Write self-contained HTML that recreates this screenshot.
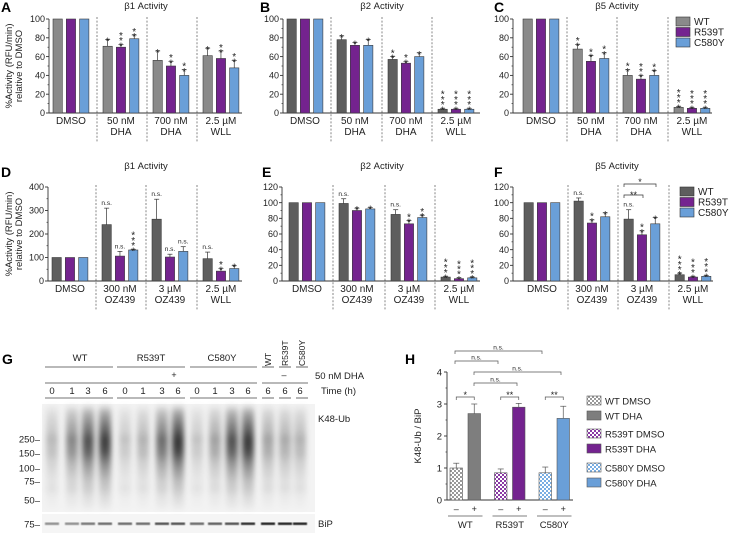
<!DOCTYPE html>
<html><head><meta charset="utf-8">
<style>
html,body{margin:0;padding:0;background:#fff;}
svg{display:block;font-family:"Liberation Sans",Arial,sans-serif;}
</style></head>
<body>
<svg id="fig" width="735" height="533" viewBox="0 0 735 533" xmlns="http://www.w3.org/2000/svg">
<defs>
<pattern id="chkGray" width="4" height="4" patternUnits="userSpaceOnUse"><rect width="4" height="4" fill="#fff"/><rect width="2" height="2" fill="#9a9a9a"/><rect x="2" y="2" width="2" height="2" fill="#9a9a9a"/></pattern>
<pattern id="chkPurple" width="4" height="4" patternUnits="userSpaceOnUse"><rect width="4" height="4" fill="#fff"/><rect width="2" height="2" fill="#8a3aa5"/><rect x="2" y="2" width="2" height="2" fill="#8a3aa5"/></pattern>
<pattern id="chkBlue" width="4" height="4" patternUnits="userSpaceOnUse"><rect width="4" height="4" fill="#fff"/><rect width="2" height="2" fill="#7aaee3"/><rect x="2" y="2" width="2" height="2" fill="#7aaee3"/></pattern>
<filter id="blur" x="-50%" y="-10%" width="200%" height="120%"><feGaussianBlur stdDeviation="2.6 4"/></filter>
<filter id="blur2"><feGaussianBlur stdDeviation="0.6"/></filter>
<linearGradient id="laneGrad" x1="0" y1="0" x2="0" y2="1">
<stop offset="0" stop-color="#000" stop-opacity="0.3"/>
<stop offset="0.22" stop-color="#000" stop-opacity="0.8"/>
<stop offset="0.38" stop-color="#000" stop-opacity="1"/>
<stop offset="0.6" stop-color="#000" stop-opacity="0.5"/>
<stop offset="0.8" stop-color="#000" stop-opacity="0.18"/>
<stop offset="1" stop-color="#000" stop-opacity="0.06"/>
</linearGradient>
</defs>
</svg>
<script>
// ---------- data ----------
const groups1 = [["DMSO"],["50 nM","DHA"],["700 nM","DHA"],["2.5 µM","WLL"]];
const groups2 = [["DMSO"],["300 nM","OZ439"],["3 µM","OZ439"],["2.5 µM","WLL"]];
const seriesNames = ["WT","R539T","C580Y"];
const aVals = [[100,100,100],[71,70,79],[56,50,40],[61,58,48]];
const aErrs = [[0,0,0],[7,3,4],[10,5,6],[8,8,8]];
const aSig = [["","",""],["*","***","**"],["*","**","**"],["*","**","**"]];
const bVals = [[100,100,100],[78,72,72],[57,53,60],[4,4,4]];
const bErrs = [[0,0,0],[4,3,6],[3,2,4],[1,1,1]];
const bSig = [["","",""],["*","*","*"],["**","**","*"],["****","****","****"]];
const cVals = [[100,100,100],[68,55,58],[40,36,40],[6,5,5]];
const cErrs = [[0,0,0],[5,6,6],[6,4,5],[1,1,1]];
const cSig = [["","",""],["**","**","**"],["**","***","**"],["****","****","****"]];
const dVals = [[100,100,100],[240,106,132],[263,102,126],[95,42,53]];
const dErrs = [[0,0,0],[70,20,3],[85,12,20],[28,12,12]];
const dSig = [["","",""],["n.s.","n.s.","****"],["n.s.","n.s.","n.s."],["n.s.","**","*"]];
const eVals = [[100,100,100],[99,90,92],[85,73,81],[5,3,4]];
const eErrs = [[0,0,0],[6,3,2],[6,4,3],[1,1,1]];
const eSig = [["","",""],["n.s.","*","*"],["n.s.","**","**"],["****","****","****"]];
const fVals = [[100,100,100],[102,74,82],[79,59,73],[8,5,6]];
const fErrs = [[0,0,0],[4,4,5],[12,5,8],[2,1,1]];
const fSig = [["","",""],["n.s.","**","*"],["n.s.","**","*"],["****","****","****"]];
const ticks100 = [0,20,40,60,80,100];
const ticks400 = [0,100,200,300,400];
const ticks120 = [0,20,40,60,80,100,120];
const hCats = ["WT","R539T","C580Y"];
const hDmso = [1.0,0.85,0.85];
const hDmsoErr = [0.15,0.12,0.18];
const hDha = [2.7,2.9,2.55];
const hDhaErr = [0.3,0.12,0.38];
const hTicks = [0,1,2,3,4];
const laneIntensity = [0.15,0.45,0.78,0.92, 0.1,0.2,0.62,0.97, 0.1,0.3,0.78,0.95, 0.28,0.24,0.2];
const bipIntensity = [0.45,0.45,0.55,0.6, 0.6,0.6,0.7,0.7, 0.6,0.65,0.7,0.85, 0.9,0.9,0.9];
const laneTimes = ["0","1","3","6","0","1","3","6","0","1","3","6","6","6","6"];
const mwLabels = ["250–","150–","100–","75–","50–"];
const mwY = [439,453,468,481,500];

// ---------- helpers ----------
const svg = document.getElementById('fig');
const NS = 'http://www.w3.org/2000/svg';
function mk(tag, attrs, parent){
  const e = document.createElementNS(NS, tag);
  for (const k in attrs) e.setAttribute(k, attrs[k]);
  (parent||svg).appendChild(e);
  return e;
}
function txt(x,y,s,size,anchor,parent,extra){
  const t = mk('text',Object.assign({x:x,y:y,'font-size':size,'text-anchor':anchor||'middle',fill:'#222'},extra||{}),parent);
  t.textContent = s;
  return t;
}
const barColors = {light:['#8a8a8a','#74238f','#6a9fd8'], dark:['#5e5e5e','#74238f','#6a9fd8']};

function drawPanel(p){
  const g = mk('g',{});
  
  
  const yS = v => p.y0 - (v/p.ymax)*(p.y0-p.yTop);
  const title = txt(p.titleX, p.titleY, p.title, 9.5, 'middle', g);
  
  
  const letter = txt(p.letterX, p.letterY, p.letter, 14, 'start', g, {'font-weight':'bold', fill:'#000'});
  
  
  mk('line',{x1:p.axisX,y1:p.yTop,x2:p.axisX,y2:p.y0,stroke:'#333','stroke-width':0.9},g);
  p.ticks.forEach(t=>{
    const y = yS(t);
    mk('line',{x1:p.axisX-3,y1:y,x2:p.axisX,y2:y,stroke:'#333','stroke-width':0.9},g);
    const tl = txt(p.axisX-4,y+3.2,String(t),9,'end',g);
    
    
  });
  for(let i=0;i<p.ticks.length-1;i++){
    const y = yS((p.ticks[i]+p.ticks[i+1])/2);
    mk('line',{x1:p.axisX-1.5,y1:y,x2:p.axisX,y2:y,stroke:'#333','stroke-width':0.7},g);
  }
  mk('line',{x1:p.axisX,y1:p.y0,x2:p.endX,y2:p.y0,stroke:'#333','stroke-width':0.9},g);
  p.seps.forEach(sx=>{
    mk('line',{x1:sx,y1:p.yTop-2,x2:sx,y2:p.y0+30,stroke:'#555','stroke-width':0.7,'stroke-dasharray':'2,1.6'},g);
  });
  const cols = barColors[p.shade];
  const step = 13.3, bw = 9.3;
  p.vals.forEach((grp,gi)=>{
    const start = gi===0 ? p.seps[0]-44 : p.seps[gi-1]+6;
    grp.forEach((v,si)=>{
      const x = start + si*step;
      const y = yS(v);
      const r = mk('rect',{x:x,y:y,width:bw,height:p.y0-y,fill:cols[si],stroke:'#3a3a3a','stroke-width':0.6},g);
      
      
      const e = p.errs[gi][si];
      let topY = y;
      if(e>0){
        const ey = yS(v+e);
        mk('line',{x1:x+bw/2,y1:y,x2:x+bw/2,y2:ey,stroke:'#333','stroke-width':0.7},g);
        mk('line',{x1:x+bw/2-2.5,y1:ey,x2:x+bw/2+2.5,y2:ey,stroke:'#333','stroke-width':0.7},g);
        topY = ey;
      }
      const s = p.sig[gi][si];
      if(s){
        if(s==='n.s.'){
          const t = txt(x+bw/2, topY-3, 'n.s.', 6.5, 'middle', g);
          
          
        } else {
          for(let k=0;k<s.length;k++){
            const t = txt(x+bw/2, topY+5 - k*5.2, '*', 10, 'middle', g);
            
            
          }
        }
      }
    });
    const cx = start + step + bw/2;
    p.labels[gi].forEach((l,li)=>{
      const t = txt(cx, p.y0+11+li*11, l, 10, 'middle', g);
      
      
    });
  });
  return g;
}

const panels = [
 {name:'panel-a-beta1-dha',letter:'A',letterX:1,letterY:12,title:'β1 Activity',titleX:146,titleY:9,axisX:49,seps:[97,147,197],endX:242,y0:113,yTop:19,ymax:100,ticks:ticks100,vals:aVals,errs:aErrs,sig:aSig,labels:groups1,shade:'light'},
 {name:'panel-b-beta2-dha',letter:'B',letterX:260,letterY:12,title:'β2 Activity',titleX:382,titleY:9,axisX:283,seps:[331,382,432],endX:480,y0:113,yTop:19,ymax:100,ticks:ticks100,vals:bVals,errs:bErrs,sig:bSig,labels:groups1,shade:'dark'},
 {name:'panel-c-beta5-dha',letter:'C',letterX:494,letterY:12,title:'β5 Activity',titleX:617,titleY:9,axisX:513,seps:[567,617,668],endX:712,y0:113,yTop:19,ymax:100,ticks:ticks100,vals:cVals,errs:cErrs,sig:cSig,labels:groups1,shade:'light'},
 {name:'panel-d-beta1-oz439',letter:'D',letterX:1,letterY:177,title:'β1 Activity',titleX:146,titleY:169,axisX:48,seps:[96,146,197],endX:242,y0:281,yTop:187,ymax:400,ticks:ticks400,vals:dVals,errs:dErrs,sig:dSig,labels:groups2,shade:'dark'},
 {name:'panel-e-beta2-oz439',letter:'E',letterX:262,letterY:177,title:'β2 Activity',titleX:382,titleY:169,axisX:282,seps:[333,385,435],endX:480,y0:281,yTop:187,ymax:120,ticks:ticks120,vals:eVals,errs:eErrs,sig:eSig,labels:groups2,shade:'dark'},
 {name:'panel-f-beta5-oz439',letter:'F',letterX:494,letterY:177,title:'β5 Activity',titleX:617,titleY:169,axisX:513,seps:[568,618,669],endX:713,y0:281,yTop:187,ymax:120,ticks:ticks120,vals:fVals,errs:fErrs,sig:fSig,labels:groups2,shade:'dark'}
];
panels.forEach(drawPanel);

[[66],[234]].forEach((c,i)=>{
  const g = mk('g',{transform:'translate(14,'+c[0]+') rotate(-90)'});
  
  
  txt(0,-2,'%Activity (RFU/min)',9.5,'middle',g);
  txt(0,8,'relative to DMSO',9.5,'middle',g);
});

(function(){
  const g = mk('g',{});
  
  
  mk('path',{d:'M624 198 V195 H643 V198',fill:'none',stroke:'#333','stroke-width':0.7},g);
  txt(633.5,198,'**',9,'middle',g);
  mk('path',{d:'M624 187 V184 H656 V187',fill:'none',stroke:'#333','stroke-width':0.7},g);
  txt(640,185,'*',9,'middle',g);
})();

function legend(x,y,cols,name){
  const g = mk('g',{});
  
  
  seriesNames.forEach((s,i)=>{
    const r = mk('rect',{x:x,y:y+i*10.5,width:14,height:9,fill:cols[i],stroke:'#333','stroke-width':0.6},g);
    
    
    const t = txt(x+18,y+i*10.5+8,s,10,'start',g);
    
    
  });
}
legend(676,17,barColors.light,'legend-c');
legend(680,187,barColors.dark,'legend-f');

// ---------- panel G blot ----------
(function(){
  const g = mk('g',{});
  
  
  const L = txt(2,364,'G',14,'start',g,{'font-weight':'bold',fill:'#000'});
  
  
  const lanes = [52,72,88,105,125,143,162,178,197,215,232,248,268,285,300];
  [['WT',80,45,113],['R539T',151,117,185],['C580Y',222,190,257]].forEach(h=>{
    const t = txt(h[1],361,h[0],9.5,'middle',g);
    
    
    mk('line',{x1:h[2],y1:367,x2:h[3],y2:367,stroke:'#444','stroke-width':0.8},g);
  });
  [['WT',268],['R539T',285],['C580Y',302]].forEach(h=>{
    const t = txt(0,0,h[0],8.5,'start',g,{transform:'translate('+(h[1]+3)+',366) rotate(-90)'});
    
    
  });
  mk('line',{x1:262,y1:367,x2:274,y2:367,stroke:'#444','stroke-width':0.8},g);
  mk('line',{x1:279,y1:367,x2:291,y2:367,stroke:'#444','stroke-width':0.8},g);
  mk('line',{x1:296,y1:367,x2:308,y2:367,stroke:'#444','stroke-width':0.8},g);
  txt(174,378,'+',9,'middle',g);
  txt(284,378,'–',9,'middle',g);
  txt(315,379,'50 nM DHA',9.5,'start',g);
  mk('line',{x1:45,y1:383,x2:257,y2:383,stroke:'#444','stroke-width':0.8},g);
  mk('line',{x1:262,y1:383,x2:308,y2:383,stroke:'#444','stroke-width':0.8},g);
  lanes.forEach((x,i)=>{
    const t = txt(x,394,laneTimes[i],9.5,'middle',g);
    
    
  });
  txt(321,394,'Time (h)',9.5,'start',g);
  [[45,113],[117,185],[190,257],[262,274],[279,291],[296,308]].forEach(s=>{
    mk('line',{x1:s[0],y1:398,x2:s[1],y2:398,stroke:'#444','stroke-width':0.8},g);
  });
  mk('rect',{x:42,y:404,width:273,height:108,fill:'#f3f3f3'},g);
  mk('rect',{x:42,y:514,width:273,height:19,fill:'#f5f5f5'},g);
  const bl = mk('g',{filter:'url(#blur)'},g);
  lanes.forEach((x,i)=>{
    const a = laneIntensity[i];
    const r = mk('rect',{x:x-6,y:408,width:12,height:100,fill:'url(#laneGrad)',opacity:(0.1+a*0.7).toFixed(2)},bl);
    
    
    mk('rect',{x:x-6,y:437,width:12,height:4,fill:'#000',opacity:(0.08+a*0.25).toFixed(2)},bl);
    mk('rect',{x:x-6,y:452,width:12,height:3,fill:'#000',opacity:(0.05+a*0.12).toFixed(2)},bl);
    mk('rect',{x:x-6,y:486,width:12,height:6,fill:'#000',opacity:0.06},bl);
  });
  const bb = mk('g',{filter:'url(#blur2)'},g);
  lanes.forEach((x,i)=>{
    const r = mk('rect',{x:x-7,y:522.5,width:14,height:2.5,fill:'#111',opacity:bipIntensity[i]},bb);
    
    
  });
  mwLabels.forEach((m,i)=>{
    const t = txt(40,mwY[i]+3.5,m,9.5,'end',g);
    
    
  });
  txt(40,527.5,'75–',9.5,'end',g);
  txt(318,422,'K48-Ub',9.5,'start',g);
  txt(318,527,'BiP',9.5,'start',g);
})();

// ---------- panel H ----------
(function(){
  const g = mk('g',{});
  
  
  const L = txt(405,364,'H',14,'start',g,{'font-weight':'bold',fill:'#000'});
  
  
  const ax = 447, y0 = 500, yT = 372, ymax = 4;
  const yS = v => y0 - v/ymax*(y0-yT);
  mk('line',{x1:ax,y1:yT,x2:ax,y2:y0,stroke:'#333','stroke-width':0.9},g);
  mk('line',{x1:ax,y1:y0,x2:573,y2:y0,stroke:'#333','stroke-width':0.9},g);
  hTicks.forEach(t=>{
    mk('line',{x1:ax-3,y1:yS(t),x2:ax,y2:yS(t),stroke:'#333','stroke-width':0.9},g);
    const tl = txt(ax-5,yS(t)+3.5,String(t),9.5,'end',g);
    
    
    if(t<4) mk('line',{x1:ax-1.5,y1:yS(t+0.5),x2:ax,y2:yS(t+0.5),stroke:'#333','stroke-width':0.7},g);
  });
  const yt = txt(0,0,'K48-Ub / BiP',9.5,'middle',g,{transform:'translate(421,436) rotate(-90)'});
  
  
  const fills = ['#7e7e7e','#74238f','#6a9fd8'];
  const pats = ['url(#chkGray)','url(#chkPurple)','url(#chkBlue)'];
  const starTxt = ['*','**','**'];
  hCats.forEach((c,i)=>{
    const x1 = 450 + i*44.5, x2 = x1 + 18;
    const bw = 12.5;
    [[x1,hDmso[i],hDmsoErr[i],pats[i],'dmso'],[x2,hDha[i],hDhaErr[i],fills[i],'dha']].forEach(b=>{
      const y = yS(b[1]);
      const r = mk('rect',{x:b[0],y:y,width:bw,height:y0-y,fill:b[3],stroke:'#555','stroke-width':0.6},g);
      
      
      const ey = yS(b[1]+b[2]);
      mk('line',{x1:b[0]+bw/2,y1:y,x2:b[0]+bw/2,y2:ey,stroke:'#555','stroke-width':0.7},g);
      mk('line',{x1:b[0]+bw/2-3,y1:ey,x2:b[0]+bw/2+3,y2:ey,stroke:'#555','stroke-width':0.7},g);
    });
    txt(x1+bw/2,512,'–',9,'middle',g);
    txt(x2+bw/2,512,'+',9,'middle',g);
    mk('line',{x1:x1-2,y1:516,x2:x2+bw+2,y2:516,stroke:'#555','stroke-width':0.8},g);
    const cl = txt((x1+x2+bw)/2,528,c,9.5,'middle',g);
    
    
    mk('path',{d:'M'+(x1+bw/2)+' 400 V397 H'+(x2+bw/2)+' V400',fill:'none',stroke:'#555','stroke-width':0.7},g);
    txt((x1+x2+bw)/2,398,starTxt[i],9,'middle',g);
  });
  [[455,542,351],[455,498,361],[474,561,372],[474,517,383]].forEach(b=>{
    mk('path',{d:'M'+b[0]+' '+(b[2]+3)+' V'+b[2]+' H'+b[1]+' V'+(b[2]+3),fill:'none',stroke:'#555','stroke-width':0.7},g);
    const t = txt((b[0]+b[1])/2,b[2]-1.5,'n.s.',6.5,'middle',g);
    
    
  });
  const leg = [['WT DMSO',pats[0],396],['WT DHA',fills[0],411],['R539T  DMSO',pats[1],429],['R539T DHA',fills[1],444],['C580Y  DMSO',pats[2],463],['C580Y DHA',fills[2],478]];
  leg.forEach(l=>{
    const r = mk('rect',{x:587,y:l[2],width:14,height:9,fill:l[1],stroke:'#555','stroke-width':0.6},g);
    
    
    const t = txt(605,l[2]+8.5,l[0],9.5,'start',g);
    
    
  });
})();
</script>
</body></html>
